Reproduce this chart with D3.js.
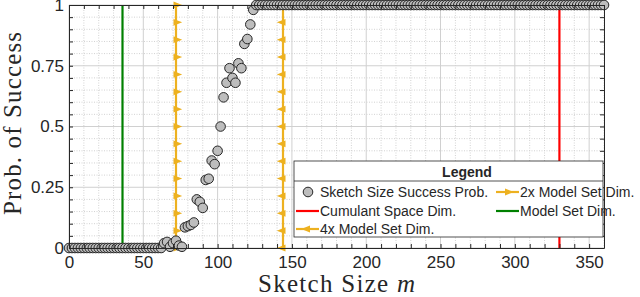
<!DOCTYPE html>
<html>
<head>
<meta charset="utf-8">
<script src="https://cdn.jsdelivr.net/npm/d3@7"></script>
<style>
  body { margin: 0; background: #fff; }
  svg text { font-family: "Liberation Sans", Arial, sans-serif; fill: #262626; }
</style>
</head>
<body>
<div id="chart"></div>
<script>
// sketch sizes m (every 2 up to 360)
var sketchSizes = d3.range(0, 361, 2);

// success probability, one value per sketch size
var successProb = [
  0, 0, 0, 0, 0, 0, 0, 0, 0, 0, 0, 0, 0, 0, 0, 0,
  0, 0, 0, 0, 0, 0, 0, 0, 0, 0, 0, 0, 0, 0, 0, 0,
  0.02, 0.025, 0.005, 0.02, 0.03, 0.01, 0.005,
  0.085, 0.09, 0.095, 0.105, 0.20, 0.19, 0.165, 0.28, 0.285,
  0.36, 0.345, 0.40, 0.50, 0.62, 0.68, 0.74, 0.70, 0.68,
  0.76, 0.74, 0.84, 0.86, 0.92, 0.98,
  1, 1, 1, 1, 1, 1, 1, 1, 1, 1, 1, 1, 1, 1, 1, 1, 1, 1, 1, 1,
  1, 1, 1, 1, 1, 1, 1, 1, 1, 1, 1, 1, 1, 1, 1, 1, 1, 1, 1, 1,
  1, 1, 1, 1, 1, 1, 1, 1, 1, 1, 1, 1, 1, 1, 1, 1, 1, 1, 1, 1,
  1, 1, 1, 1, 1, 1, 1, 1, 1, 1, 1, 1, 1, 1, 1, 1, 1, 1, 1, 1,
  1, 1, 1, 1, 1, 1, 1, 1, 1, 1, 1, 1, 1, 1, 1, 1, 1, 1, 1, 1,
  1, 1, 1, 1, 1, 1, 1, 1, 1, 1, 1, 1, 1, 1, 1, 1, 1, 1
];

// vertical reference lines
var refNames = ["Cumulant Space Dim.", "Model Set Dim.", "2x Model Set Dim.", "4x Model Set Dim."];
var refValues = [330, 36, 72, 144];

var xTicks = [0, 50, 100, 150, 200, 250, 300, 350];
var yTicks = [0, 0.25, 0.5, 0.75, 1];
var yTickLabels = ["0", "0.25", "0.5", "0.75", "1"];

var svgWidth = 640;
var svgHeight = 297;
var margin = { top: 5, right: 36, bottom: 49, left: 69 };
var width = svgWidth - margin.left - margin.right;
var height = svgHeight - margin.top - margin.bottom;

var refColors = ["#ff0000", "#008000", "#edb120", "#edb120"];
var refMarker = [null, null, "right", "left"];

var svg = d3.select("#chart").append("svg")
  .attr("width", svgWidth)
  .attr("height", svgHeight);

var chartGroup = svg.append("g")
  .attr("transform", `translate(${margin.left}, ${margin.top})`);

var xScale = d3.scaleLinear().domain([0, 360]).range([0, width]);
var yScale = d3.scaleLinear().domain([0, 1]).range([height, 0]);

var xMinor = d3.range(0, 361, 10);
var yMinor = d3.range(0, 1.0001, 0.05);

// minor grid (dotted)
chartGroup.append("g").selectAll("line")
  .data(xMinor.filter(v => v % 50 !== 0))
  .enter().append("line")
  .attr("x1", d => xScale(d)).attr("x2", d => xScale(d))
  .attr("y1", 0).attr("y2", height)
  .attr("stroke", "#d2d2d2").attr("stroke-dasharray", "1,1.5");
chartGroup.append("g").selectAll("line")
  .data(yMinor.filter(v => Math.abs(v * 4 - Math.round(v * 4)) > 1e-6))
  .enter().append("line")
  .attr("y1", d => yScale(d)).attr("y2", d => yScale(d))
  .attr("x1", 0).attr("x2", width)
  .attr("stroke", "#d2d2d2").attr("stroke-dasharray", "1,1.5");

// major grid
chartGroup.append("g").selectAll("line")
  .data(xTicks)
  .enter().append("line")
  .attr("x1", d => xScale(d)).attr("x2", d => xScale(d))
  .attr("y1", 0).attr("y2", height)
  .attr("stroke", "#d0d0d0");
chartGroup.append("g").selectAll("line")
  .data(yTicks)
  .enter().append("line")
  .attr("y1", d => yScale(d)).attr("y2", d => yScale(d))
  .attr("x1", 0).attr("x2", width)
  .attr("stroke", "#d0d0d0");

// reference lines
var lineGen = d3.line().x(d => xScale(d[0])).y(d => yScale(d[1]));
var markerFrac = d3.range(0, 15).map(k => k / 14);
var triRight = "M-2.5,-3.4L6.2,0L-2.5,3.4Z";
var triLeft = "M2.5,-3.4L-6.2,0L2.5,3.4Z";

refValues.forEach(function(v, i) {
  var pts = markerFrac.map(f => [v, f]);
  chartGroup.append("path")
    .attr("d", lineGen(pts))
    .attr("fill", "none")
    .attr("stroke", refColors[i])
    .attr("stroke-width", 2.2);
  if (refMarker[i]) {
    chartGroup.append("g").selectAll("path")
      .data(pts)
      .enter().append("path")
      .attr("transform", d => `translate(${xScale(d[0])},${yScale(d[1])})`)
      .attr("d", refMarker[i] === "right" ? triRight : triLeft)
      .attr("fill", refColors[i]);
  }
});

// scatter of success probabilities
chartGroup.append("g").selectAll("circle")
  .data(sketchSizes.map((m, i) => [m, successProb[i]]))
  .enter().append("circle")
  .attr("cx", d => xScale(d[0]))
  .attr("cy", d => yScale(d[1]))
  .attr("r", 4.8)
  .attr("fill", "#bdbdbd")
  .attr("stroke", "#262626")
  .attr("stroke-width", 1);

// axes, MATLAB style ticks pointing inward
function styleAxis(g) {
  g.selectAll("path.domain").attr("stroke", "#262626");
  g.selectAll(".tick line").attr("stroke", "#262626");
  g.selectAll("text").attr("font-family", "Liberation Sans, Arial, sans-serif")
    .attr("font-size", 17).attr("fill", "#262626");
  g.attr("font-family", null).attr("font-size", null);
}

var bottomAxis = d3.axisBottom(xScale).tickValues(xMinor)
  .tickFormat(d => (d % 50 === 0 ? d : ""))
  .tickSizeInner(-4).tickSizeOuter(0).tickPadding(8);
chartGroup.append("g")
  .attr("transform", `translate(0, ${height})`)
  .call(bottomAxis).call(styleAxis);

var leftAxis = d3.axisLeft(yScale).tickValues(yMinor)
  .tickFormat(d => {
    var j = yTicks.findIndex(t => Math.abs(t - d) < 1e-6);
    return j >= 0 ? yTickLabels[j] : "";
  })
  .tickSizeInner(-4).tickSizeOuter(0).tickPadding(5);
chartGroup.append("g").call(leftAxis).call(styleAxis);

chartGroup.append("g")
  .call(d3.axisTop(xScale).tickValues(xMinor).tickFormat("").tickSizeInner(-4).tickSizeOuter(0))
  .call(styleAxis);
chartGroup.append("g")
  .attr("transform", `translate(${width}, 0)`)
  .call(d3.axisRight(yScale).tickValues(yMinor).tickFormat("").tickSizeInner(-4).tickSizeOuter(0))
  .call(styleAxis);

// axis labels
svg.append("text")
  .attr("transform", `translate(21, ${margin.top + height / 2 - 3}) rotate(-90)`)
  .attr("text-anchor", "middle")
  .attr("font-size", 25)
  .attr("textLength", 183)
  .attr("lengthAdjust", "spacing")
  .style("font-family", "'Liberation Serif', serif")
  .text("Prob. of Success");

var xLabel = svg.append("text")
  .attr("x", margin.left + width / 2)
  .attr("y", 291.5)
  .attr("text-anchor", "middle")
  .attr("font-size", 25)
  .attr("textLength", 157)
  .attr("lengthAdjust", "spacing")
  .style("font-family", "'Liberation Serif', serif");
xLabel.append("tspan").text("Sketch Size ");
xLabel.append("tspan").attr("font-style", "italic").text("m");

// legend
var legend = svg.append("g").attr("transform", "translate(294, 161)");
legend.append("rect")
  .attr("width", 309).attr("height", 76)
  .attr("fill", "#fff").attr("stroke", "#262626").attr("stroke-width", 0.8);
legend.append("line")
  .attr("x1", 0).attr("x2", 309).attr("y1", 20).attr("y2", 20)
  .attr("stroke", "#262626").attr("stroke-width", 0.8);
legend.append("text")
  .attr("x", 173).attr("y", 15.5)
  .attr("text-anchor", "middle")
  .attr("font-size", 14).attr("font-weight", "bold")
  .text("Legend");

var legendItems = [
  { name: "Sketch Size Success Prob.", type: "circle", col: 0, row: 0 },
  { name: refNames[2], type: "line", color: refColors[2], marker: "right", col: 1, row: 0 },
  { name: refNames[0], type: "line", color: refColors[0], col: 0, row: 1 },
  { name: refNames[1], type: "line", color: refColors[1], col: 1, row: 1 },
  { name: refNames[3], type: "line", color: refColors[3], marker: "left", col: 0, row: 2 }
];
var colX = [2, 202];
var rowY = [31, 50, 68];

legendItems.forEach(function(it) {
  var g = legend.append("g")
    .attr("transform", `translate(${colX[it.col]}, ${rowY[it.row]})`);
  if (it.type === "circle") {
    g.append("circle").attr("cx", 12).attr("cy", 0).attr("r", 4.8)
      .attr("fill", "#bdbdbd").attr("stroke", "#262626").attr("stroke-width", 1);
  } else {
    g.append("line").attr("x1", 0).attr("x2", 23).attr("y1", 0).attr("y2", 0)
      .attr("stroke", it.color).attr("stroke-width", 2.2);
    if (it.marker) {
      g.append("path")
        .attr("transform", "translate(11.5, 0)")
        .attr("d", it.marker === "right" ? triRight : triLeft)
        .attr("fill", it.color);
    }
  }
  g.append("text").attr("x", 24).attr("y", 5)
    .attr("font-size", 14)
    .text(it.name);
});
</script>
</body>
</html>
